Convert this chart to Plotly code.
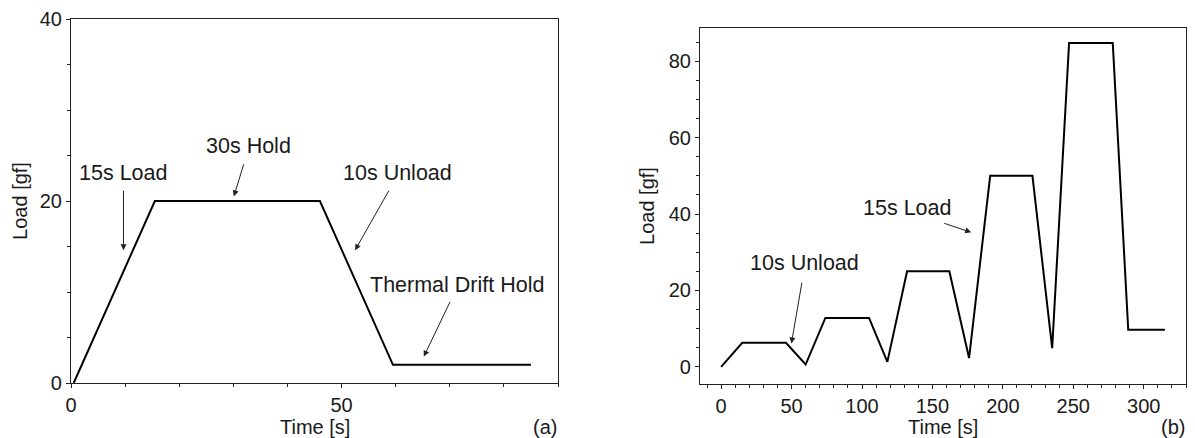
import plotly.graph_objects as go

# Panel (a): single load cycle
time_a = [0.5, 15.5, 46, 59.5, 85]
load_a = [0, 20, 20, 2, 2]

# Panel (b): multi-cycle loading
time_b = [0, 15, 46, 60, 74, 105, 118, 132, 162, 176, 191, 221, 235, 247, 278, 289, 315]
load_b = [0, 6.3, 6.3, 0.6, 12.8, 12.8, 1.3, 25.0, 25.0, 2.3, 50.0, 50.0, 4.9, 84.8, 84.8, 9.7, 9.7]

# Annotations: (text, text_x, text_y, tail_x, tail_y, head_x, head_y)
notes_a = [
    ("15s Load", 9.7, 23.1, 9.7, 21.3, 9.7, 14.6),
    ("30s Hold", 32.8, 26.0, 32.0, 24.2, 30.1, 20.5),
    ("10s Unload", 60.4, 23.1, 58.9, 21.3, 52.5, 14.6),
    ("Thermal Drift Hold", 71.4, 10.8, 70.2, 9.1, 65.2, 2.9),
]
notes_b = [
    ("10s Unload", 59.3, 27.1, 57.5, 22.4, 49.9, 6.1),
    ("15s Load", 131.6, 41.6, 157.3, 37.7, 177.5, 35.2),
]

FONT = "Liberation Sans, Arial, sans-serif"
TXT = "#1a1a1a"
TICK_SIZE = 20
TITLE_SIZE = 20
NOTE_SIZE = 21.5

fig = go.Figure()
fig.add_trace(go.Scatter(x=time_a, y=load_a, mode="lines",
                         line=dict(color="black", width=2), xaxis="x", yaxis="y",
                         showlegend=False, hoverinfo="skip"))
fig.add_trace(go.Scatter(x=time_b, y=load_b, mode="lines",
                         line=dict(color="black", width=2), xaxis="x2", yaxis="y2",
                         showlegend=False, hoverinfo="skip"))

axis_common = dict(showgrid=False, zeroline=False, showline=True, mirror=True,
                   linecolor="#222", linewidth=1.2, ticks="outside", ticklen=4,
                   tickcolor="#222", tickfont=dict(family=FONT, size=TICK_SIZE, color=TXT),
                   automargin=False)

fig.update_layout(
    width=1195, height=438,
    margin=dict(l=0, r=0, t=0, b=0),
    paper_bgcolor="white", plot_bgcolor="white",
    font=dict(family=FONT, size=TITLE_SIZE, color=TXT),
    xaxis=dict(domain=[71/1195, 558/1195], range=[0, 90], dtick=50, tick0=0,
               minor=dict(dtick=10, ticks="outside", ticklen=3, tickcolor="#222"),
               anchor="y", **axis_common),
    yaxis=dict(domain=[(438-383)/438, (438-19)/438], range=[0, 40], dtick=20, tick0=0,
               minor=dict(dtick=5, ticks="outside", ticklen=3, tickcolor="#222"),
               title=dict(text="Load [gf]", standoff=6, font=dict(size=TITLE_SIZE)),
               anchor="x", **axis_common),
    xaxis2=dict(domain=[700/1195, 1186/1195], range=[-15, 330], dtick=50, tick0=0,
                minor=dict(dtick=10, ticks="outside", ticklen=3, tickcolor="#222"),
                anchor="y2", **axis_common),
    yaxis2=dict(domain=[(438-384)/438, (438-28)/438], range=[-4.5, 88.7], dtick=20, tick0=0,
                minor=dict(dtick=5, ticks="outside", ticklen=3, tickcolor="#222"),
                title=dict(text="Load [gf]", standoff=8, font=dict(size=TITLE_SIZE)),
                anchor="x2", **axis_common),
)

anns = []
for notes, xr, yr in ((notes_a, "x", "y"), (notes_b, "x2", "y2")):
    for text, tx, ty, ax, ay, hx, hy in notes:
        anns.append(dict(x=tx, y=ty, xref=xr, yref=yr, text=text, showarrow=False,
                         font=dict(family=FONT, size=NOTE_SIZE, color=TXT)))
        anns.append(dict(x=hx, y=hy, ax=ax, ay=ay, xref=xr, yref=yr,
                         axref=xr, ayref=yr, text="", showarrow=True,
                         arrowhead=2, arrowsize=1.2, arrowwidth=1, arrowcolor="#222"))

# x-axis titles and panel labels along the bottom edge
bottom_labels = [
    ("Time [s]", (71 + 558) / 2 / 1195, "center"),
    ("Time [s]", (700 + 1186) / 2 / 1195, "center"),
    ("(a)", 558 / 1195, "right"),
    ("(b)", 1186 / 1195, "right"),
]
for text, px, anchor in bottom_labels:
    anns.append(dict(x=px, y=-0.002, xref="paper", yref="paper", text=text,
                     showarrow=False, xanchor=anchor, yanchor="bottom", borderpad=0,
                     font=dict(family=FONT, size=TITLE_SIZE, color=TXT)))
fig.update_layout(annotations=anns)

fig.write_html("out.html")
